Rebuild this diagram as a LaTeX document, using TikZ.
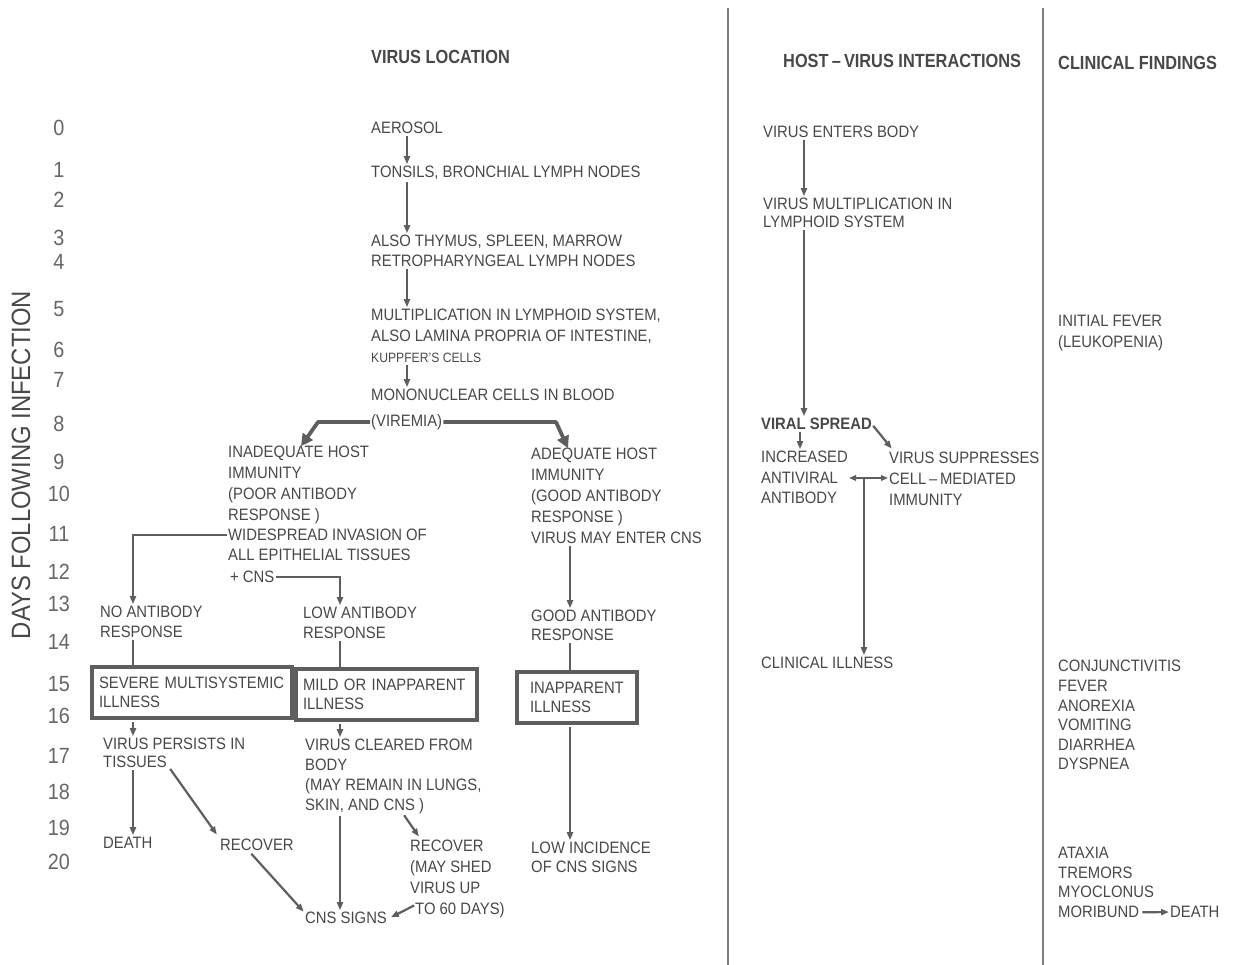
\documentclass[tikz,border=0pt]{standalone}
\usepackage{fontspec}
\setmainfont{Liberation Sans}[FakeStretch=0.9]
\newfontfamily\hdfont{Liberation Sans}[FakeStretch=0.86]
\usetikzlibrary{arrows.meta,calc}

\definecolor{ink}{HTML}{484848}
\definecolor{rule}{HTML}{5E5E5E}
\definecolor{daycol}{HTML}{666666}

\begin{document}
\begin{tikzpicture}[x=1pt,y=-1pt,
  txt/.style={anchor=north west, inner sep=0pt, align=left, text=ink,
              font=\fontsize{16.5}{#1}\selectfont},
  txt/.default=20.5,
  hd/.style={anchor=west, inner sep=0pt, text=ink,
             font=\hdfont\bfseries\fontsize{19}{20}\selectfont},
  day/.style={anchor=center, inner sep=0pt, text=daycol,
              font=\fontsize{22}{24}\selectfont},
  arr/.style={draw=rule, line width=2.2pt, shorten <=2pt, shorten >=2pt,
              -{Triangle[length=8pt,width=6pt]}},
  dbl/.style={draw=rule, line width=2.2pt, shorten <=1pt, shorten >=1pt,
              {Triangle[length=7pt,width=5.5pt]}-{Triangle[length=7pt,width=5.5pt]}},
  ln/.style={draw=rule, line width=2.2pt, shorten <=2pt},
  fat/.style={draw=rule, line width=3.8pt, shorten <=1pt, line join=round,
              -{Triangle[length=12pt,width=12pt]}},
  outbox/.style={draw=rule, line width=4.5pt, inner sep=0pt, align=left,
                 text=ink, font=\fontsize{16.5}{18.5}\selectfont},
  divider/.style={draw=rule!80, line width=1.4pt}
]
\useasboundingbox (0,0) rectangle (1245,965);
\fill[white] (0,0) rectangle (1245,965);

% column dividers
\draw[divider] (728,8) -- (728,965);
\draw[divider] (1043,8) -- (1043,965);

% headings
\node[hd] (hloc)  at (371,57) {VIRUS LOCATION};
\node[hd] (hhost) at (783,61) {HOST\,–\,VIRUS INTERACTIONS};
\node[hd] (hclin) at (1058,63) {CLINICAL FINDINGS};

% time axis
\node[rotate=90, inner sep=0pt, text=ink, font=\fontsize{26.5}{28}\selectfont]
  (axis) at (21,465) {DAYS FOLLOWING INFECTION};
\foreach \d/\yy in {0/128,1/170,2/200,3/238,4/262,5/309,6/350,7/380,8/424,
                    9/462,10/494,11/534,12/572,13/604,14/642,15/684,16/716,
                    17/756,18/792,19/828,20/862}
  \node[day] (d\d) at (59,\yy) {\d};

% arrow columns
\coordinate (colA) at (407,0);
\coordinate (colL) at (133,0);
\coordinate (colM) at (340,0);
\coordinate (colR) at (570,0);
\coordinate (colH) at (804,0);
\coordinate (colS) at (800,0);
\coordinate (cornerL) at (318,0);
\coordinate (tipL) at (301,0);
\coordinate (cornerR) at (556,0);
\coordinate (tipR) at (568,0);

% ---- virus location ----
\node[txt] (aer)  at (371,122.2) {AEROSOL};
\node[txt] (ton)  at (371,166.2) {TONSILS, BRONCHIAL LYMPH NODES};
\node[txt=19.5] (thy) at (371,235.2) {ALSO THYMUS, SPLEEN, MARROW\\RETROPHARYNGEAL LYMPH NODES};
\node[txt=21] (mult) at (371,309.2) {MULTIPLICATION IN LYMPHOID SYSTEM,\\ALSO LAMINA PROPRIA OF INTESTINE,\\{\fontsize{13.5}{21}\selectfont KUPPFER'S CELLS}};
\node[txt] (mono) at (371,389.2) {MONONUCLEAR CELLS IN BLOOD};
\node[txt] (vir)  at (371,414.2) {(VIREMIA)};

% inadequate immunity branch
\node[txt=20.7] (inad) at (228,446.2) {INADEQUATE HOST\\IMMUNITY\\(POOR ANTIBODY\\RESPONSE )};
\node[txt] (wide1) at (228,529.2) {WIDESPREAD INVASION OF};
\node[txt] (wide2) at (228,549.2) {ALL EPITHELIAL TISSUES};
\node[txt] (plus)  at (230,571.2) {+ CNS};
\node[txt=20] (noab)  at (100,606.2) {NO ANTIBODY\\RESPONSE};
\node[txt=20] (lowab) at (303,607.2) {LOW ANTIBODY\\RESPONSE};

\node[outbox, minimum width=200pt, minimum height=51pt, text width=186pt]
  (sev) at (192,692.5) {SEVERE MULTISYSTEMIC\\ILLNESS};
\node[outbox, minimum width=181pt, minimum height=51pt, text width=167pt]
  (mild) at (386.5,694.5) {MILD OR INAPPARENT\\ILLNESS};
\node[outbox, minimum width=120pt, minimum height=51pt, text width=94pt]
  (inap) at (577,697.5) {INAPPARENT\\ILLNESS};

\node[txt=18] (pers) at (103,738.2) {VIRUS PERSISTS IN\\TISSUES};
\node[txt] (death1) at (103,837.2) {DEATH};
\node[txt] (rec1) at (220,839.2) {RECOVER};
\node[txt=19.7] (clr) at (305,739.2) {VIRUS CLEARED FROM\\BODY\\(MAY REMAIN IN LUNGS,\\SKIN, AND CNS )};
\node[txt=21] (rec2) at (410,840.2) {RECOVER\\(MAY SHED\\VIRUS UP\\\hspace*{5pt}TO 60 DAYS)};
\node[txt] (cnss) at (305,912.2) {CNS SIGNS};

% adequate immunity branch
\node[txt=21] (adeq) at (531,448.2) {ADEQUATE HOST\\IMMUNITY\\(GOOD ANTIBODY\\RESPONSE )\\VIRUS MAY ENTER CNS};
\node[txt=19] (good) at (531,610.2) {GOOD ANTIBODY\\RESPONSE};
\node[txt=19] (lowinc) at (531,842.2) {LOW INCIDENCE\\OF CNS SIGNS};

% ---- host-virus interactions ----
\node[txt] (ent) at (763,126.2) {VIRUS ENTERS BODY};
\node[txt=18] (vmul) at (763,198.2) {VIRUS MULTIPLICATION IN\\LYMPHOID SYSTEM};
\node[txt, font=\bfseries\fontsize{16.5}{20}\selectfont] (spr) at (761,418.2) {VIRAL SPREAD};
\node[txt] (inc) at (761,451.2) {INCREASED\\ANTIVIRAL\\ANTIBODY};
\node[txt=21] (sup) at (889,452.2) {VIRUS SUPPRESSES\\CELL\,–\,MEDIATED\\IMMUNITY};
\node[txt] (clin) at (761,657.2) {CLINICAL ILLNESS};
\coordinate (mid) at (864,478);

% ---- clinical findings ----
\node[txt=21] (ifev) at (1058,315.2) {INITIAL FEVER\\(LEUKOPENIA)};
\node[txt=19.6] (sg1) at (1058,660.2) {CONJUNCTIVITIS\\FEVER\\ANOREXIA\\VOMITING\\DIARRHEA\\DYSPNEA};
\node[txt=19.3] (sg2) at (1058,847.2) {ATAXIA\\TREMORS\\MYOCLONUS};
\node[txt] (mori) at (1058,906.2) {MORIBUND};
\node[txt] (dth) at (1170,906.2) {DEATH};

% ---- connectors: virus location ----
\draw[arr] (aer.south -| colA) -- (ton.north -| colA);
\draw[arr] (ton.south -| colA) -- (thy.north -| colA);
\draw[arr] (thy.south -| colA) -- (mult.north -| colA);
\draw[arr] (mult.south -| colA) -- (mono.north -| colA);

\draw[fat] (vir.west) -- (vir.west -| cornerL) -- (inad.north -| tipL);
\draw[fat] (vir.east) -- (vir.east -| cornerR) -- (adeq.north -| tipR);

\draw[arr, shorten <=1pt] (wide1.west) -- (wide1.west -| colL) -- (noab.north -| colL);
\draw[arr, shorten <=1pt] (plus.east) -- (plus.east -| colM) -- (lowab.north -| colM);
\draw[ln] (noab.south -| colL) -- (sev.north -| colL);
\draw[ln] (lowab.south -| colM) -- (mild.north -| colM);

\draw[arr] (sev.south -| colL) -- (pers.north -| colL);
\draw[arr] (pers.south -| colL) -- (death1.north -| colL);
\draw[arr] ($(pers.south west)+(66,-1)$) -- ($(rec1.north west)+(-2,-3)$);
\draw[arr] ($(rec1.south west)+(30,1)$) -- ($(cnss.north west)+(0,1)$);

\draw[arr] (mild.south -| colM) -- (clr.north -| colM);
\draw[arr] (clr.south -| colM) -- (cnss.north -| colM);
\draw[arr] ($(clr.south west)+(98,0)$) -- ($(rec2.north west)+(10,-2)$);
\draw[arr] ($(rec2.south west)+(6,-14)$) -- ($(cnss.east)+(2,0)$);

\draw[arr] (adeq.south -| colR) -- (good.north -| colR);
\draw[ln] (good.south -| colR) -- (inap.north -| colR);
\draw[arr] (inap.south -| colR) -- (lowinc.north -| colR);

% ---- connectors: host-virus interactions ----
\draw[arr] (ent.south -| colH) -- (vmul.north -| colH);
\draw[arr] (vmul.south -| colH) -- (spr.north -| colH);
\draw[arr] (spr.south -| colS) -- (inc.north -| colS);
\draw[arr] (spr.east) -- ($(sup.north west)+(4,-2)$);
\draw[dbl] (mid -| inc.east) -- (mid -| sup.west);
\draw[arr, shorten <=0pt] (mid) -- (clin.north -| mid);

% ---- connectors: clinical findings ----
\draw[arr, shorten <=3pt, shorten >=1pt] (mori.east) -- (dth.west);
\end{tikzpicture}
\end{document}
